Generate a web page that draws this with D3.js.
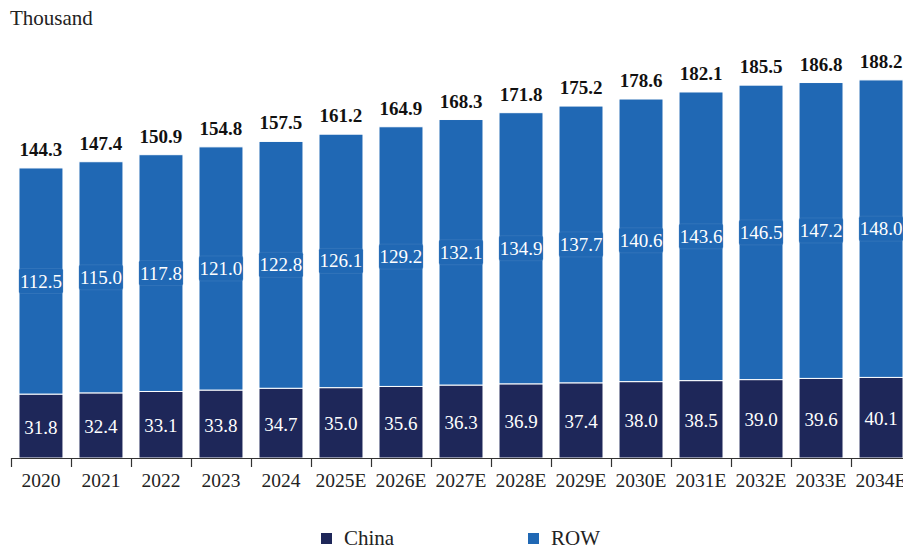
<!DOCTYPE html>
<html>
<head>
<meta charset="utf-8">
<script src="https://cdn.jsdelivr.net/npm/d3@7"></script>
<style>
  html, body { margin: 0; padding: 0; background: #fff; }
  svg { display: block; }
  svg text { font-family: "Liberation Serif", "DejaVu Serif", serif; }
</style>
</head>
<body>
<svg id="chart" width="903" height="549"></svg>
<script>
// Annual volumes, thousand units
const years = ["2020", "2021", "2022", "2023", "2024", "2025E", "2026E", "2027E",
               "2028E", "2029E", "2030E", "2031E", "2032E", "2033E", "2034E"];
const china = [31.8, 32.4, 33.1, 33.8, 34.7, 35.0, 35.6, 36.3, 36.9, 37.4, 38.0, 38.5, 39.0, 39.6, 40.1];
const row   = [112.5, 115.0, 117.8, 121.0, 122.8, 126.1, 129.2, 132.1, 134.9, 137.7, 140.6, 143.6, 146.5, 147.2, 148.0];
const totals = [144.3, 147.4, 150.9, 154.8, 157.5, 161.2, 164.9, 168.3, 171.8, 175.2, 178.6, 182.1, 185.5, 186.8, 188.2];
const seriesNames = ["China", "ROW"];
const colors = { China: "#1e2759", ROW: "#2068b4" };
const FONT = "'Liberation Serif', 'DejaVu Serif', serif";

const svg = d3.select("#chart");
const margin = { left: 11, right: -8, top: 56, bottom: 91 };
const W = 903, H = 549;

const x = d3.scaleBand()
  .domain(years)
  .range([margin.left, W - margin.right])
  .paddingInner(0.267)
  .paddingOuter(0.133);

const y = d3.scaleLinear()
  .domain([0, 200])
  .range([H - margin.bottom, margin.top]);

const data = years.map((yr, i) => ({ year: yr, China: china[i], ROW: row[i], total: totals[i] }));
const stacked = d3.stack().keys(seriesNames)(data);

// stacked bars
const layers = svg.append("g").selectAll("g")
  .data(stacked).join("g")
  .attr("fill", d => colors[d.key]);

layers.selectAll("rect")
  .data(d => d.map(v => Object.assign(v, { key: d.key })))
  .join("rect")
  .attr("x", d => x(d.data.year))
  .attr("width", x.bandwidth())
  .attr("y", d => y(d[1]))
  .attr("height", d => y(d[0]) - y(d[1]))
  .attr("stroke", "#fff")
  .attr("stroke-width", 1);

// segment value labels (ROW labels sit on a rounded tag of the bar colour)
const labelG = svg.append("g");
stacked.forEach(layer => {
  layer.forEach(d => {
    const cx = x(d.data.year) + x.bandwidth() / 2;
    const cy = (y(d[0]) + y(d[1])) / 2;
    const val = d.data[layer.key].toFixed(1);
    const g = labelG.append("g");
    const baseline = cy + (layer.key === "ROW" ? 6.5 : 7.5);
    const t = g.append("text")
      .attr("x", cx).attr("y", baseline)
      .attr("text-anchor", "middle")
      .attr("font-family", FONT)
      .attr("font-size", 19)
      .attr("fill", "#fff")
      .text(val);
    if (layer.key === "ROW") {
      const bb = t.node().getBBox();
      const w = Math.min(bb.width + 4, x.bandwidth());
      g.insert("rect", "text")
        .attr("x", cx - w / 2).attr("y", baseline - 19)
        .attr("width", w).attr("height", 25)
        .attr("rx", 2)
        .attr("fill", colors.ROW)
        .attr("stroke", "#5a8fc8")
        .attr("stroke-opacity", 0.5)
        .attr("stroke-width", 0.6);
    }
  });
});

// totals above bars
svg.append("g").selectAll("text")
  .data(data).join("text")
  .attr("x", d => x(d.year) + x.bandwidth() / 2)
  .attr("y", d => y(d.total) - 12)
  .attr("text-anchor", "middle")
  .attr("font-family", FONT)
  .attr("font-size", 19)
  .attr("font-weight", "bold")
  .attr("fill", "#111")
  .text(d => d.total.toFixed(1));

// x axis with ticks at band boundaries
const axisY = y(0);
const axisG = svg.append("g");
axisG.append("line")
  .attr("x1", margin.left).attr("x2", W)
  .attr("y1", axisY + 0.5).attr("y2", axisY + 0.5)
  .attr("stroke", "#333").attr("stroke-width", 1.2);
const step = x.step();
const boundaries = years.map(yr => x(yr) - x.paddingOuter() * step);
axisG.selectAll("line.tick")
  .data(boundaries).join("line")
  .attr("class", "tick")
  .attr("x1", d => Math.round(d) + 0.5).attr("x2", d => Math.round(d) + 0.5)
  .attr("y1", axisY).attr("y2", axisY + 9)
  .attr("stroke", "#333").attr("stroke-width", 1.2);
axisG.selectAll("text")
  .data(years).join("text")
  .attr("x", d => x(d) + x.bandwidth() / 2)
  .attr("y", axisY + 28.5)
  .attr("text-anchor", "middle")
  .attr("font-family", FONT)
  .attr("font-size", 19.5)
  .attr("fill", "#222")
  .text(d => d);

// unit title
svg.append("text")
  .attr("x", 10).attr("y", 25)
  .attr("font-family", FONT)
  .attr("font-size", 21)
  .attr("fill", "#222")
  .text("Thousand");

// legend
const legendPos = [{ key: "China", x: 321 }, { key: "ROW", x: 528 }];
const lg = svg.append("g");
legendPos.forEach(l => {
  lg.append("rect")
    .attr("x", l.x).attr("y", 533)
    .attr("width", 11).attr("height", 11)
    .attr("fill", colors[l.key]);
  lg.append("text")
    .attr("x", l.x + 23).attr("y", 544.5)
    .attr("font-family", FONT)
    .attr("font-size", 21)
    .attr("fill", "#222")
    .text(l.key);
});
</script>
</body>
</html>
